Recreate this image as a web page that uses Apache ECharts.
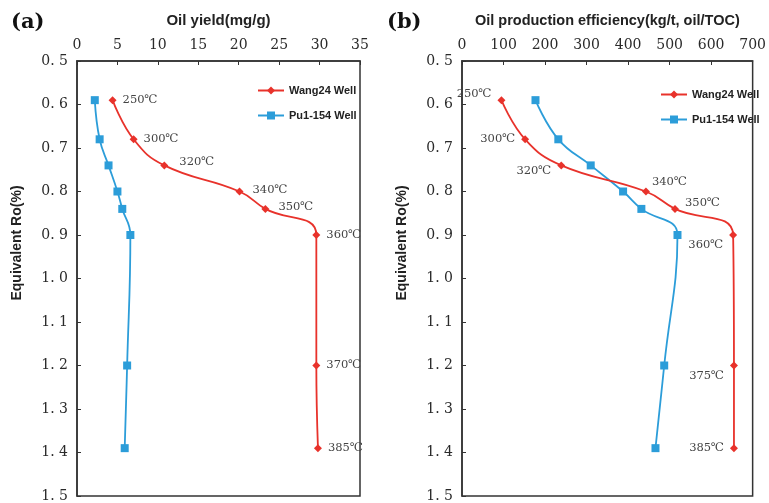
<!DOCTYPE html>
<html>
<head>
<meta charset="utf-8">
<script src="https://cdn.jsdelivr.net/npm/echarts@6/dist/echarts.min.js"></script>
<style>
  html, body { margin: 0; padding: 0; background: #fff; }
  #main { width: 769px; height: 503px; }
</style>
</head>
<body>
<div id="main"></div>
<script>
// Equivalent Ro(%) of each sample
const roValues = [0.59, 0.68, 0.74, 0.80, 0.84, 0.90, 1.20, 1.39]

// (a) oil yield, mg/g
const yieldWang24 = [4.4, 7.0, 10.8, 20.1, 23.3, 29.6, 29.6, 29.8]
const yieldPu1154 = [2.2, 2.8, 3.9, 5.0, 5.6, 6.6, 6.2, 5.9]
const tempsA = ['250℃', '300℃', '320℃', '340℃', '350℃', '360℃', '370℃', '385℃']

// (b) oil production efficiency, kg/t oil/TOC
const effWang24 = [95, 152, 239, 443, 513, 653, 655, 655]
const effPu1154 = [177, 232, 310, 388, 432, 519, 487, 466]
const tempsB = ['250℃', '300℃', '320℃', '340℃', '350℃', '360℃', '375℃', '385℃']

const seriesNames = ['Wang24 Well', 'Pu1-154 Well']
const yName = 'Equivalent Ro(%)'

const RED = '#e8322b'
const BLUE = '#2c9dd9'
const serif = '"DejaVu Serif", "Liberation Serif", serif'
const sans = '"Liberation Sans", Arial, sans-serif'

// label placement for the temperature tags
const labelA = [
  ['right', [0, 0]], ['right', [0, 0]], ['right', [5, -3]], ['right', [3, -1]],
  ['right', [3, -2]], ['right', [0, 0]], ['right', [0, 0]], ['right', [0, 0]]
]
const labelB = [
  ['left', [0, -6]], ['left', [0, 0]], ['left', [0, 6]], ['right', [-4, -9]],
  ['right', [0, -6]], ['left', [0, 10]], ['left', [0, 11]], ['left', [0, 0]]
]

function pairs (xs, labels, place) {
  return xs.map((x, i) => {
    let item = { value: [x, roValues[i]] }
    if (labels) {
      item.label = {
        show: true,
        formatter: labels[i],
        position: place[i][0],
        offset: place[i][1],
        distance: 6
      }
    }
    return item
  })
}

function xAxisOf (idx, name, max, interval, nameSize) {
  return {
    gridIndex: idx,
    type: 'value',
    position: 'top',
    min: 0,
    max: max,
    interval: interval,
    name: name,
    nameLocation: 'middle',
    nameGap: 33,
    nameTextStyle: { fontFamily: sans, fontWeight: 'bold', fontSize: nameSize, color: '#222' },
    axisLine: { show: true, lineStyle: { color: '#333', width: 1.5 } },
    axisTick: { show: true, inside: true, length: 4, lineStyle: { color: '#333' } },
    axisLabel: { fontFamily: serif, fontSize: 14, color: '#2a2a2a', margin: 9 },
    splitLine: { show: false }
  }
}

function yAxisOf (idx) {
  return {
    gridIndex: idx,
    type: 'value',
    inverse: true,
    min: 0.5,
    max: 1.5,
    interval: 0.1,
    axisLine: { show: true, lineStyle: { color: '#333', width: 1.5 } },
    axisTick: { show: true, inside: true, length: 4, lineStyle: { color: '#333' } },
    axisLabel: {
      fontFamily: serif, fontSize: 14, color: '#2a2a2a', margin: 9,
      formatter: v => v.toFixed(1).replace('.', '. ')
    },
    splitLine: { show: false }
  }
}

function lineSeries (name, idx, data, color, symbol, size) {
  return {
    name: name,
    type: 'line',
    xAxisIndex: idx,
    yAxisIndex: idx,
    data: data,
    smooth: 0.45,
    symbol: symbol,
    symbolSize: size,
    lineStyle: { color: color, width: 1.8 },
    itemStyle: { color: color },
    label: { fontFamily: serif, fontSize: 11.5, color: '#444' },
    z: name === seriesNames[0] ? 3 : 2
  }
}

function legendOf (left, top) {
  return {
    data: seriesNames,
    orient: 'vertical',
    left: left,
    top: top,
    itemWidth: 26,
    itemHeight: 10,
    itemGap: 14,
    textStyle: { fontFamily: sans, fontWeight: 'bold', fontSize: 11, color: '#222' }
  }
}

// rotated y axis title, a bit above the middle like the original figure
function yTitle (x) {
  return {
    type: 'text',
    x: x,
    y: 243,
    rotation: Math.PI / 2,
    style: {
      text: yName,
      font: 'bold 14px ' + sans,
      fill: '#222',
      align: 'center',
      verticalAlign: 'middle'
    }
  }
}

const chart = echarts.init(document.getElementById('main'), null, { renderer: 'canvas' })
chart.setOption({
  animation: false,
  backgroundColor: '#fff',
  grid: [
    { left: 77, top: 61, width: 283, height: 436, show: true, borderColor: '#333', borderWidth: 1.5 },
    { left: 462, top: 61, width: 291, height: 437, show: true, borderColor: '#333', borderWidth: 1.5 }
  ],
  xAxis: [
    xAxisOf(0, 'Oil yield(mg/g)', 35, 5, 15),
    xAxisOf(1, 'Oil production efficiency(kg/t, oil/TOC)', 700, 100, 14.5)
  ],
  yAxis: [yAxisOf(0), yAxisOf(1)],
  legend: [legendOf(252, 80), legendOf(655, 84)],
  graphic: [
    { type: 'text', left: 11, top: 12, style: { text: '(a)', font: 'bold 21px ' + serif, fill: '#111' } },
    { type: 'text', left: 387, top: 12, style: { text: '(b)', font: 'bold 21px ' + serif, fill: '#111' } },
    yTitle(17),
    yTitle(402)
  ],
  series: [
    lineSeries(seriesNames[0], 0, pairs(yieldWang24, tempsA, labelA), RED, 'diamond', 8),
    lineSeries(seriesNames[1], 0, pairs(yieldPu1154), BLUE, 'rect', 8),
    lineSeries(seriesNames[0], 1, pairs(effWang24, tempsB, labelB), RED, 'diamond', 8),
    lineSeries(seriesNames[1], 1, pairs(effPu1154), BLUE, 'rect', 8)
  ]
})
</script>
</body>
</html>
